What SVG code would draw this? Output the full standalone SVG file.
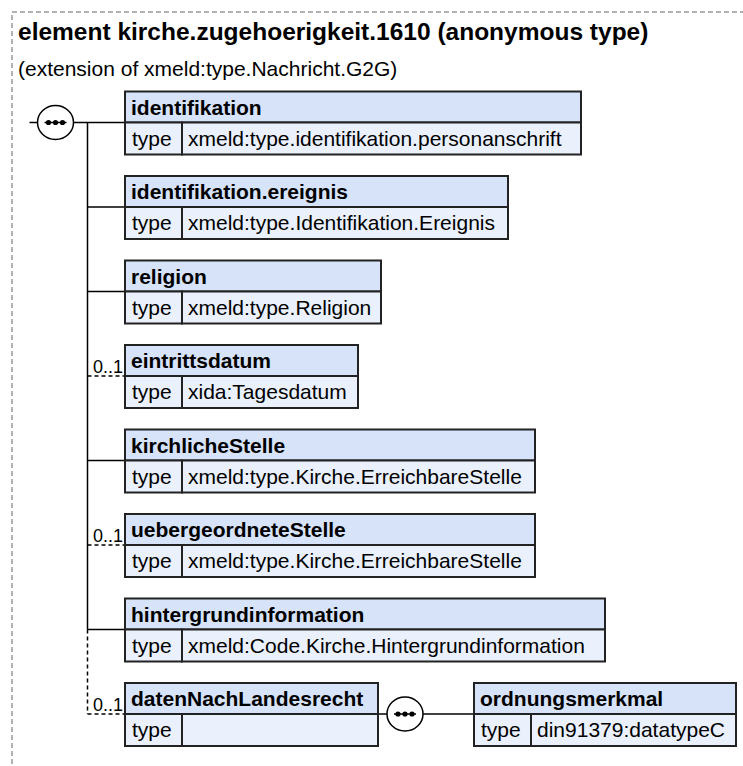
<svg xmlns="http://www.w3.org/2000/svg" width="743" height="766" viewBox="0 0 743 766">
<style>
text{font-family:"Liberation Sans",Arial,Helvetica,sans-serif;fill:#000}
.title{font-size:24.5px;font-weight:bold}
.sub{font-size:21px}
.hd{fill:#d6e3f8;stroke:#222;stroke-width:2}
.row{fill:#eaf1fc;stroke:#222;stroke-width:2}
.name{font-size:21px;font-weight:bold}
.val{font-size:21px}
.card{font-size:18px;text-anchor:end}
.ln{stroke:#000;stroke-width:1.5;fill:none}
.dash{stroke:#000;stroke-width:1.5;fill:none;stroke-dasharray:4 3}
.seq{fill:#fff;stroke:#000;stroke-width:1.5}
.border{fill:none;stroke:#999;stroke-width:1.5;stroke-dasharray:5 3}
</style>
<defs>
<g id="dots">
<line x1="-11" y1="0" x2="11" y2="0" stroke="#000" stroke-width="1.5"/>
<circle cx="-7" cy="0" r="2.6" fill="#000"/>
<circle cx="0" cy="0" r="2.6" fill="#000"/>
<circle cx="7" cy="0" r="2.6" fill="#000"/>
</g>
</defs>
<path class="border" d="M12 780 V12 H760"/>
<text class="title" x="18" y="40">element kirche.zugehoerigkeit.1610 (anonymous type)</text>
<text class="sub" x="18" y="76">(extension of xmeld:type.Nachricht.G2G)</text>

<g id="connectors">
<line class="ln" x1="29.5" y1="122.5" x2="37.5" y2="122.5"/>
<line class="ln" x1="73.5" y1="122.5" x2="125" y2="122.5"/>
<line class="ln" x1="87.5" y1="122.5" x2="87.5" y2="629.5"/>
<line class="dash" x1="87.5" y1="629.5" x2="87.5" y2="714"/>
<line class="ln" x1="87.5" y1="207" x2="125" y2="207"/>
<line class="ln" x1="87.5" y1="291.5" x2="125" y2="291.5"/>
<line class="dash" x1="87.5" y1="376" x2="125" y2="376"/>
<line class="ln" x1="87.5" y1="460.5" x2="125" y2="460.5"/>
<line class="dash" x1="87.5" y1="545" x2="125" y2="545"/>
<line class="ln" x1="87.5" y1="629.5" x2="125" y2="629.5"/>
<line class="dash" x1="87.5" y1="714" x2="125" y2="714"/>
<line class="ln" x1="378" y1="714" x2="387" y2="714"/>
<line class="ln" x1="423" y1="714" x2="474" y2="714"/>
<text class="card" x="123" y="373">0..1</text>
<text class="card" x="123" y="542">0..1</text>
<text class="card" x="123" y="711">0..1</text>
</g>

<g id="seq1">
<ellipse class="seq" cx="55.5" cy="122.5" rx="18" ry="17"/>
<use href="#dots" x="55.5" y="122.5"/>
</g>
<g id="seq2">
<ellipse class="seq" cx="405" cy="714" rx="18" ry="17"/>
<use href="#dots" x="405" y="714"/>
</g>

<g id="identifikation">
<rect class="hd" x="125" y="91.5" width="456" height="31"/>
<rect class="row" x="125" y="122.5" width="57" height="32"/>
<rect class="row" x="182" y="122.5" width="399" height="32"/>
<text class="name" x="131" y="114.5">identifikation</text>
<text class="val" x="132" y="145.5">type</text>
<text class="val" x="188" y="145.5">xmeld:type.identifikation.personanschrift</text>
</g>

<g id="identifikation.ereignis">
<rect class="hd" x="125" y="176" width="383" height="31"/>
<rect class="row" x="125" y="207" width="57" height="32"/>
<rect class="row" x="182" y="207" width="326" height="32"/>
<text class="name" x="131" y="199">identifikation.ereignis</text>
<text class="val" x="132" y="230">type</text>
<text class="val" x="188" y="230">xmeld:type.Identifikation.Ereignis</text>
</g>

<g id="religion">
<rect class="hd" x="125" y="260.5" width="256" height="31"/>
<rect class="row" x="125" y="291.5" width="57" height="32"/>
<rect class="row" x="182" y="291.5" width="199" height="32"/>
<text class="name" x="131" y="283.5">religion</text>
<text class="val" x="132" y="314.5">type</text>
<text class="val" x="188" y="314.5">xmeld:type.Religion</text>
</g>

<g id="eintrittsdatum">
<rect class="hd" x="125" y="345" width="233" height="31"/>
<rect class="row" x="125" y="376" width="57" height="32"/>
<rect class="row" x="182" y="376" width="176" height="32"/>
<text class="name" x="131" y="368">eintrittsdatum</text>
<text class="val" x="132" y="399">type</text>
<text class="val" x="188" y="399">xida:Tagesdatum</text>
</g>

<g id="kirchlicheStelle">
<rect class="hd" x="125" y="429.5" width="410" height="31"/>
<rect class="row" x="125" y="460.5" width="57" height="32"/>
<rect class="row" x="182" y="460.5" width="353" height="32"/>
<text class="name" x="131" y="452.5">kirchlicheStelle</text>
<text class="val" x="132" y="483.5">type</text>
<text class="val" x="188" y="483.5">xmeld:type.Kirche.ErreichbareStelle</text>
</g>

<g id="uebergeordneteStelle">
<rect class="hd" x="125" y="514" width="410" height="31"/>
<rect class="row" x="125" y="545" width="57" height="32"/>
<rect class="row" x="182" y="545" width="353" height="32"/>
<text class="name" x="131" y="537">uebergeordneteStelle</text>
<text class="val" x="132" y="568">type</text>
<text class="val" x="188" y="568">xmeld:type.Kirche.ErreichbareStelle</text>
</g>

<g id="hintergrundinformation">
<rect class="hd" x="125" y="598.5" width="480" height="31"/>
<rect class="row" x="125" y="629.5" width="57" height="32"/>
<rect class="row" x="182" y="629.5" width="423" height="32"/>
<text class="name" x="131" y="621.5">hintergrundinformation</text>
<text class="val" x="132" y="652.5">type</text>
<text class="val" x="188" y="652.5">xmeld:Code.Kirche.Hintergrundinformation</text>
</g>

<g id="datenNachLandesrecht">
<rect class="hd" x="125" y="683" width="253" height="31"/>
<rect class="row" x="125" y="714" width="57" height="32"/>
<rect class="row" x="182" y="714" width="196" height="32"/>
<text class="name" x="131" y="706">datenNachLandesrecht</text>
<text class="val" x="132" y="737">type</text>
</g>

<g id="ordnungsmerkmal">
<rect class="hd" x="474" y="683" width="262" height="31"/>
<rect class="row" x="474" y="714" width="57" height="32"/>
<rect class="row" x="531" y="714" width="205" height="32"/>
<text class="name" x="480" y="706">ordnungsmerkmal</text>
<text class="val" x="481" y="737">type</text>
<text class="val" x="537" y="737">din91379:datatypeC</text>
</g>
</svg>
